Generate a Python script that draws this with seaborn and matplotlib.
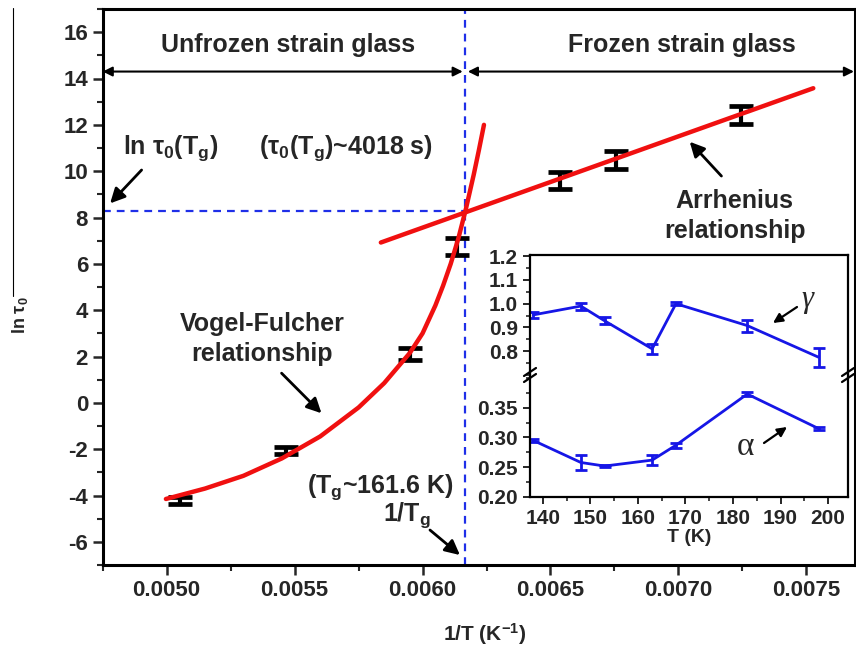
import matplotlib
matplotlib.use("Agg")
import matplotlib.pyplot as plt
import seaborn as sns
import numpy as np
import pandas as pd
from matplotlib.lines import Line2D
from matplotlib.ticker import MultipleLocator, FormatStrFormatter

# ---------------- data ----------------
T_K = [198, 183, 168, 163, 153, 148, 138]
inv_T = [1.0 / t for t in T_K]
ln_tau0 = [-4.22, -2.05, 2.10, 6.75, 9.60, 10.48, 12.43]
ln_tau0_err = [0.15, 0.14, 0.25, 0.38, 0.36, 0.40, 0.40]

# Vogel-Fulcher fit curve
vf_x = [0.004997, 0.00515, 0.00530, 0.00545, 0.00560, 0.00575, 0.00585,
        0.00595, 0.00600, 0.00605, 0.00608, 0.00611, 0.00614, 0.00617,
        0.00620, 0.00622, 0.00624]
vf_y = [-4.15, -3.70, -3.15, -2.40, -1.45, -0.20, 0.85,
        2.15, 3.00, 4.20, 5.05, 6.00, 7.10, 8.40,
        9.85, 10.90, 12.00]

# Arrhenius fit line (end points)
arr_x = [0.005837, 0.007527]
arr_y = [6.92, 13.58]

Tg_inv = 0.006165          # 1/Tg  (Tg ~ 161.6 K)
ln_tau_Tg = 8.30           # ln(4018 s)

# inset
inset_T = [138, 148, 153, 163, 168, 183, 198]
gamma = [0.953, 0.990, 0.928, 0.810, 1.000, 0.908, 0.775]
gamma_err = [0.012, 0.015, 0.015, 0.020, 0.006, 0.025, 0.040]
alpha = [0.295, 0.258, 0.252, 0.262, 0.287, 0.373, 0.315]
alpha_err = [0.003, 0.013, 0.002, 0.008, 0.004, 0.004, 0.002]

# ---------------- style ----------------
sns.set_style("ticks")
plt.rcParams["font.family"] = ["Liberation Sans", "DejaVu Sans"]
plt.rcParams["font.weight"] = "bold"
plt.rcParams["axes.labelweight"] = "bold"
plt.rcParams["axes.unicode_minus"] = False
plt.rcParams["mathtext.fontset"] = "custom"
plt.rcParams["mathtext.rm"] = "Liberation Sans:bold"
plt.rcParams["mathtext.it"] = "Liberation Sans:bold"
plt.rcParams["mathtext.bf"] = "Liberation Sans:bold"
plt.rcParams["mathtext.default"] = "rm"

RED = "#f01010"
BLUE = "#1f2fe8"
IBLUE = "#1616e6"
W, H = 856, 651


def fp(px, py):
    return (px / W, 1 - py / H)


fig = plt.figure(figsize=(W / 100, H / 100), dpi=100)
ax = fig.add_axes([102.7 / W, 1 - 565 / H, (855 - 102.7) / W, (565 - 9) / H])

xl0, xl1 = 0.00475, 0.00769
ax.set_xlim(xl0, xl1)
ax.set_ylim(-7, 17)

# dashed guide lines
ax.axvline(Tg_inv, color=BLUE, ls=(0, (3.5, 2.7)), lw=1.6, zorder=2)
ax.plot([xl0, Tg_inv], [ln_tau_Tg, ln_tau_Tg], color=BLUE,
        ls=(0, (3.5, 2.7)), lw=1.6, zorder=2)

# data with error bars
ax.errorbar(inv_T, ln_tau0, yerr=ln_tau0_err, fmt="none", ecolor="black",
            elinewidth=3, capsize=8.5, capthick=3.4, zorder=3)

# fits
sns.lineplot(x=vf_x, y=vf_y, ax=ax, color=RED, lw=3.2, sort=False,
             estimator=None, zorder=4)
sns.lineplot(x=arr_x, y=arr_y, ax=ax, color=RED, lw=3.2, sort=False,
             estimator=None, zorder=4)
for ln in ax.lines[-2:]:
    ln.set_solid_capstyle("round")
    ln.set_solid_joinstyle("round")

# region arrows
ax.annotate("", xy=(Tg_inv - 0.000008, 14.3), xytext=(xl0, 14.3),
            arrowprops=dict(arrowstyle="<|-|>", color="k", lw=1.5,
                            mutation_scale=14, shrinkA=0, shrinkB=0))
ax.annotate("", xy=(xl1 - 0.000004, 14.3), xytext=(Tg_inv + 0.000012, 14.3),
            arrowprops=dict(arrowstyle="<|-|>", color="k", lw=1.5,
                            mutation_scale=14, shrinkA=0, shrinkB=0))

FS = 18
ax.text(0.005474, 15.45, "Unfrozen strain glass", ha="center", va="center",
        fontsize=FS, fontweight="bold")
ax.text(0.007013, 15.45, "Frozen strain glass", ha="center", va="center",
        fontsize=FS, fontweight="bold")
ax.text(0.00483, 11.0, r"ln $\tau_0$($T_g$)", ha="left", va="center",
        fontsize=FS, fontweight="bold")
ax.text(0.00570, 11.0, r"($\tau_0$($T_g$)~4018 s)", ha="center", va="center",
        fontsize=FS, fontweight="bold")
ax.text(0.00722, 8.07, "Arrhenius\nrelationship", ha="center", va="center",
        fontsize=FS, fontweight="bold", linespacing=1.3)
ax.text(0.005372, 2.76, "Vogel-Fulcher\nrelationship", ha="center",
        va="center", fontsize=FS, fontweight="bold", linespacing=1.3)
ax.text(0.005834, -3.62, r"($T_g$~161.6 K)", ha="center", va="center",
        fontsize=FS, fontweight="bold")
ax.text(0.005937, -4.84, r"1/$T_g$", ha="center", va="center",
        fontsize=FS, fontweight="bold")

arrow_kw = dict(arrowstyle="-|>", color="k", lw=2, mutation_scale=22,
                shrinkA=0, shrinkB=0)
ax.annotate("", xy=(0.004779, 8.61), xytext=(0.004902, 10.05), arrowprops=arrow_kw)
ax.annotate("", xy=(0.005605, -0.45), xytext=(0.005449, 1.28), arrowprops=arrow_kw)
ax.annotate("", xy=(0.007044, 11.27), xytext=(0.007168, 9.79), arrowprops=arrow_kw)
ax.annotate("", xy=(0.006146, -6.57), xytext=(0.006029, -5.49), arrowprops=arrow_kw)

# axes formatting
ax.xaxis.set_major_locator(MultipleLocator(0.0005))
ax.xaxis.set_minor_locator(MultipleLocator(0.00025))
ax.xaxis.set_major_formatter(FormatStrFormatter("%.4f"))
ax.yaxis.set_major_locator(MultipleLocator(2))
ax.yaxis.set_minor_locator(MultipleLocator(1))
ax.tick_params(which="major", direction="out", length=7, width=1.8,
               labelsize=16, top=False, right=False)
ax.tick_params(which="minor", direction="out", length=4, width=1.5,
               top=False, right=False)
for s in ax.spines.values():
    s.set_linewidth(2.2)
    s.set_color("k")
ax.set_xlabel(r"1/T (K$^{-1}$)", fontsize=15, fontweight="bold")
ax.set_ylabel(r"ln $\tau_0$", fontsize=13, fontweight="bold")
ax.yaxis.set_label_coords(-0.0966, 0.45)
ax.xaxis.set_label_coords(0.508, -0.1)

fig.add_artist(Line2D([13 / W, 13 / W], [1 - 8 / H, 1 - 296 / H],
                      color="k", lw=0.8))

# ---------------- inset (broken axis) ----------------
axU = fig.add_axes([530 / W, 1 - 375 / H, 318 / W, 120 / H])
axL = fig.add_axes([530 / W, 1 - 497 / H, 318 / W, 122 / H])
for a in (axU, axL):
    a.set_facecolor("white")
    a.set_xlim(137.3, 204.2)
    for s in a.spines.values():
        s.set_linewidth(1.6)
        s.set_color("k")
    a.tick_params(which="major", direction="out", length=5, width=1.4,
                  labelsize=15, top=False, right=False)
    a.tick_params(which="minor", direction="out", length=3, width=1.2,
                  top=False, right=False)

sns.lineplot(x=inset_T, y=gamma, ax=axU, color=IBLUE, lw=2, sort=False,
             estimator=None)
axU.errorbar(inset_T, gamma, yerr=gamma_err, fmt="none", ecolor=IBLUE,
             elinewidth=2, capsize=4.5, capthick=2)
sns.lineplot(x=inset_T, y=alpha, ax=axL, color=IBLUE, lw=2, sort=False,
             estimator=None)
axL.errorbar(inset_T, alpha, yerr=alpha_err, fmt="none", ecolor=IBLUE,
             elinewidth=2, capsize=4.5, capthick=2)

axU.set_ylim(0.7, 1.205)
axU.set_yticks([0.8, 0.9, 1.0, 1.1, 1.2])
axU.yaxis.set_minor_locator(MultipleLocator(0.05))
axU.yaxis.set_major_formatter(FormatStrFormatter("%.1f"))
axU.spines["bottom"].set_visible(False)
axU.tick_params(axis="x", which="both", bottom=False, labelbottom=False)

axL.set_ylim(0.2, 0.405)
axL.set_yticks([0.20, 0.25, 0.30, 0.35])
axL.yaxis.set_minor_locator(MultipleLocator(0.025))
axL.yaxis.set_major_formatter(FormatStrFormatter("%.2f"))
axL.spines["top"].set_visible(False)
axL.xaxis.set_major_locator(MultipleLocator(10))
axL.xaxis.set_minor_locator(MultipleLocator(5))
axL.set_xlabel("T (K)", fontsize=14, fontweight="bold", labelpad=1)
axU.set_xlabel("")
axU.set_ylabel("")
axL.set_ylabel("")

# break marks
for bx in (530, 848):
    for dy in (-3, 3):
        x0, y0 = fp(bx - 6, 375 + dy + 4)
        x1, y1 = fp(bx + 6, 375 + dy - 4)
        fig.add_artist(Line2D([x0, x1], [y0, y1], color="k", lw=1.6))

# greek labels with arrows
fig.text(*fp(807, 300), "\u03b3", fontsize=22, ha="center", va="center",
         family=["Liberation Serif", "DejaVu Serif"], style="italic",
         fontweight="normal")
fig.text(*fp(745, 447), "\u03b1", fontsize=24, ha="center", va="center",
         family=["Liberation Serif", "DejaVu Serif"], fontweight="normal")
ak = dict(arrowstyle="-|>", color="k", lw=1.6, mutation_scale=14,
          shrinkA=0, shrinkB=0)
fig.add_artist(plt.Annotation("", xy=fp(773, 323), xytext=fp(797, 307),
                              xycoords="figure fraction",
                              textcoords="figure fraction", arrowprops=ak))
fig.add_artist(plt.Annotation("", xy=fp(787, 427), xytext=fp(764, 443),
                              xycoords="figure fraction",
                              textcoords="figure fraction", arrowprops=ak))

fig.savefig("out.png", dpi=100)
